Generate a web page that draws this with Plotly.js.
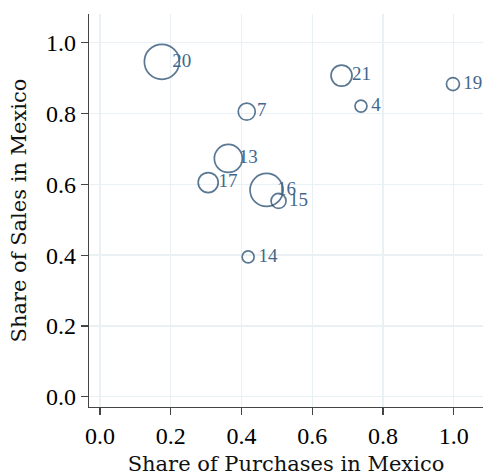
<!DOCTYPE html>
<html>
<head>
<meta charset="utf-8">
<script src="https://cdn.plot.ly/plotly-3.0.1.min.js"></script>
<style>html,body{margin:0;padding:0;background:#fff;}#chart{width:485px;height:476px;}</style>
</head>
<body>
<div id="chart"></div>
<script>
const labels = ["20", "7", "13", "17", "16", "15", "14", "21", "4", "19"];
const purchasesShare = [0.175, 0.415, 0.363, 0.306, 0.471, 0.505, 0.419, 0.683, 0.738, 0.998];
const salesShare = [0.946, 0.805, 0.673, 0.605, 0.584, 0.553, 0.395, 0.907, 0.821, 0.883];
const weights = [35, 17, 28, 20, 33, 15, 12, 21, 12, 13];
const tickVals = [0, 0.2, 0.4, 0.6, 0.8, 1.0];
const tickText = ["0.0", "0.2", "0.4", "0.6", "0.8", "1.0"];

const numFont = "Liberation Serif, Times New Roman, serif";
const titleFont = "DejaVu Serif, serif";

const circles = {
  x: purchasesShare,
  y: salesShare,
  mode: "markers",
  type: "scatter",
  marker: {
    size: weights,
    sizemode: "diameter",
    color: "rgba(0,0,0,0)",
    line: {color: "#163f66", width: 1.7}
  },
  cliponaxis: false,
  hoverinfo: "none"
};

const labelTrace = {
  x: purchasesShare,
  y: salesShare,
  text: labels,
  mode: "markers+text",
  type: "scatter",
  textposition: "middle right",
  textfont: {family: numFont, size: 19, color: "#43678b"},
  marker: {size: 15, color: "rgba(0,0,0,0)", line: {width: 0}},
  cliponaxis: false,
  hoverinfo: "none"
};

const axisCommon = {
  showline: true,
  linecolor: "#444",
  linewidth: 1.3,
  ticks: "outside",
  ticklen: 7,
  tickwidth: 1.2,
  tickcolor: "#444",
  showgrid: true,
  gridcolor: "#eaf1f4",
  gridwidth: 1.3,
  zeroline: false,
  tickvals: tickVals,
  ticktext: tickText,
  tickfont: {family: numFont, size: 24, color: "#000"}
};

const layout = {
  width: 485,
  height: 476,
  margin: {l: 89, r: 2, t: 14, b: 69},
  paper_bgcolor: "#fff",
  plot_bgcolor: "#fff",
  showlegend: false,
  xaxis: Object.assign({}, axisCommon, {
    range: [-0.031, 1.083],
    title: {text: "Share of Purchases in Mexico", font: {family: titleFont, size: 21, color: "#111"}, standoff: 13}
  }),
  yaxis: Object.assign({}, axisCommon, {
    range: [-0.029, 1.081],
    title: {text: "Share of Sales in Mexico", font: {family: titleFont, size: 21, color: "#111"}, standoff: 13}
  })
};

Plotly.newPlot("chart", [circles, labelTrace], layout, {staticPlot: true, displayModeBar: false});
</script>
</body>
</html>
